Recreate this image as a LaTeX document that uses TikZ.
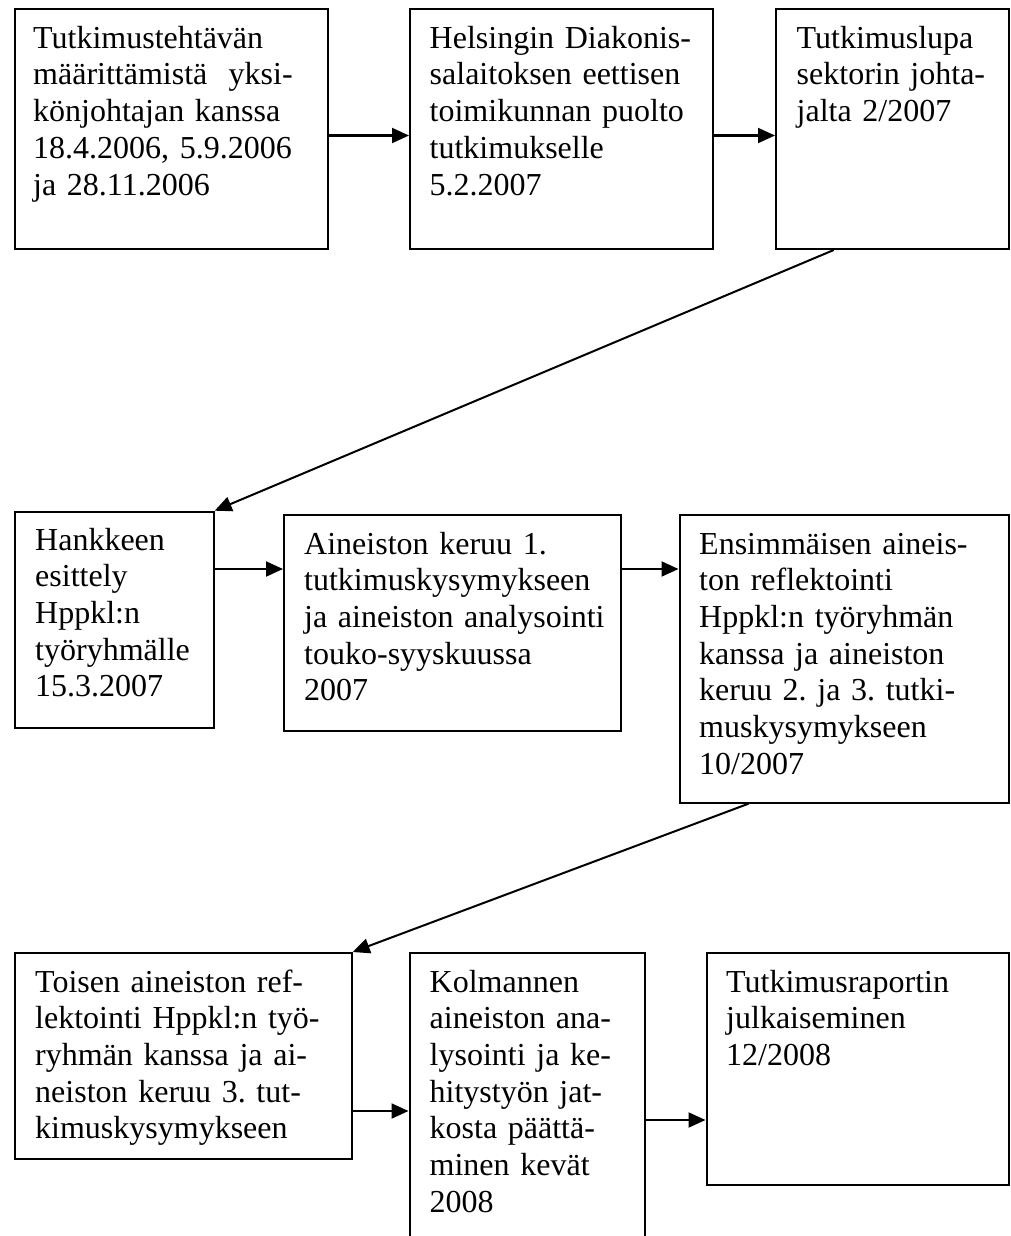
\documentclass[tikz,border=0pt]{standalone}
\usepackage{fontspec}
\setmainfont{Liberation Serif}[Ligatures=NoCommon]
\usetikzlibrary{arrows.meta,calc}
\frenchspacing
\tikzset{
  boxnode/.style={draw, line width=2pt, rectangle, inner sep=0pt, anchor=north west},
  txt/.style={anchor=base west, inner sep=0pt, text width=400pt, align=left,
    font=\fontsize{32}{36.7}\selectfont},
  arr/.style={line width=2pt, -{Triangle[length=17pt,width=15pt]}},
}
\begin{document}
\frenchspacing
\begin{tikzpicture}[x=1pt,y=-1pt]
\useasboundingbox (0,0) rectangle (1010,1236);
\fill[white] (0,0) rectangle (1010,1236);
% row 1
\node[boxnode, minimum width=312.5pt, minimum height=239.5pt] (b1) at (14,8.5) {};
\node[boxnode, minimum width=303pt, minimum height=239.5pt] (b2) at (409,8.5) {};
\node[boxnode, minimum width=233pt, minimum height=239.5pt] (b3) at (775,8.5) {};
\node[txt] (t1) at (33,48.3) {Tutkimustehtävän\\määrittämistä\ \ yksi-\\könjohtajan kanssa\\18.4.2006, 5.9.2006\\ja 28.11.2006};
\node[txt] (t2) at (429.5,48.3) {Helsingin Diakonis-\\salaitoksen eettisen\\toimikunnan puolto\\tutkimukselle\\5.2.2007};
\node[txt] (t3) at (796.5,48.3) {Tutkimuslupa\\sektorin johta-\\jalta 2/2007};
% row 2
\node[boxnode, minimum width=198.7pt, minimum height=216.3pt] (b4) at (14,510.7) {};
\node[boxnode, minimum width=337pt, minimum height=216.5pt] (b5) at (283,513.5) {};
\node[boxnode, minimum width=329.5pt, minimum height=288.2pt] (b6) at (678.5,513.5) {};
\node[txt] (t4) at (35,550) {Hankkeen\\esittely\\Hppkl:n\\työryhmälle\\15.3.2007};
\node[txt] (t5) at (304,554) {Aineiston keruu 1.\\tutkimuskysymykseen\\ja aineiston analysointi\\touko-syyskuussa\\2007};
\node[txt] (t6) at (699,554) {Ensimmäisen aineis-\\ton reflektointi\\Hppkl:n työryhmän\\kanssa ja aineiston\\keruu 2. ja 3. tutki-\\muskysymykseen\\10/2007};
% row 3
\node[boxnode, minimum width=336.7pt, minimum height=206.3pt] (b7) at (14,952) {};
\node[boxnode, minimum width=235.5pt, minimum height=308pt] (b8) at (408.5,952) {};
\node[boxnode, minimum width=302.5pt, minimum height=231.5pt] (b9) at (705.5,952) {};
\node[txt] (t7) at (35,992) {Toisen aineiston ref-\\lektointi Hppkl:n työ-\\ryhmän kanssa ja ai-\\neiston keruu 3. tut-\\kimuskysymykseen};
\node[txt] (t8) at (429.5,992) {Kolmannen\\aineiston ana-\\lysointi ja ke-\\hitystyön jat-\\kosta päättä-\\minen kevät\\2008};
\node[txt] (t9) at (726,992) {Tutkimusraportin\\julkaiseminen\\12/2008};
% connectors
\coordinate (y1) at (0,135.5);
\coordinate (y2) at (0,569);
\coordinate (y3) at (0,1111);
\coordinate (y4) at (0,1120);
\draw[arr] (b1.east |- y1) -- (b2.west |- y1);
\draw[arr] (b2.east |- y1) -- (b3.west |- y1);
\draw[arr] (b4.east |- y2) -- (b5.west |- y2);
\draw[arr] (b5.east |- y2) -- (b6.west |- y2);
\draw[arr] (b7.east |- y3) -- (b8.west |- y3);
\draw[arr] (b8.east |- y4) -- (b9.west |- y4);
\draw[arr] ($(b3.south west)!0.25!(b3.south east)$) -- (b4.north east);
\draw[arr] ($(b6.south west)!0.211!(b6.south east)$) -- (b7.north east);
\end{tikzpicture}
\end{document}
